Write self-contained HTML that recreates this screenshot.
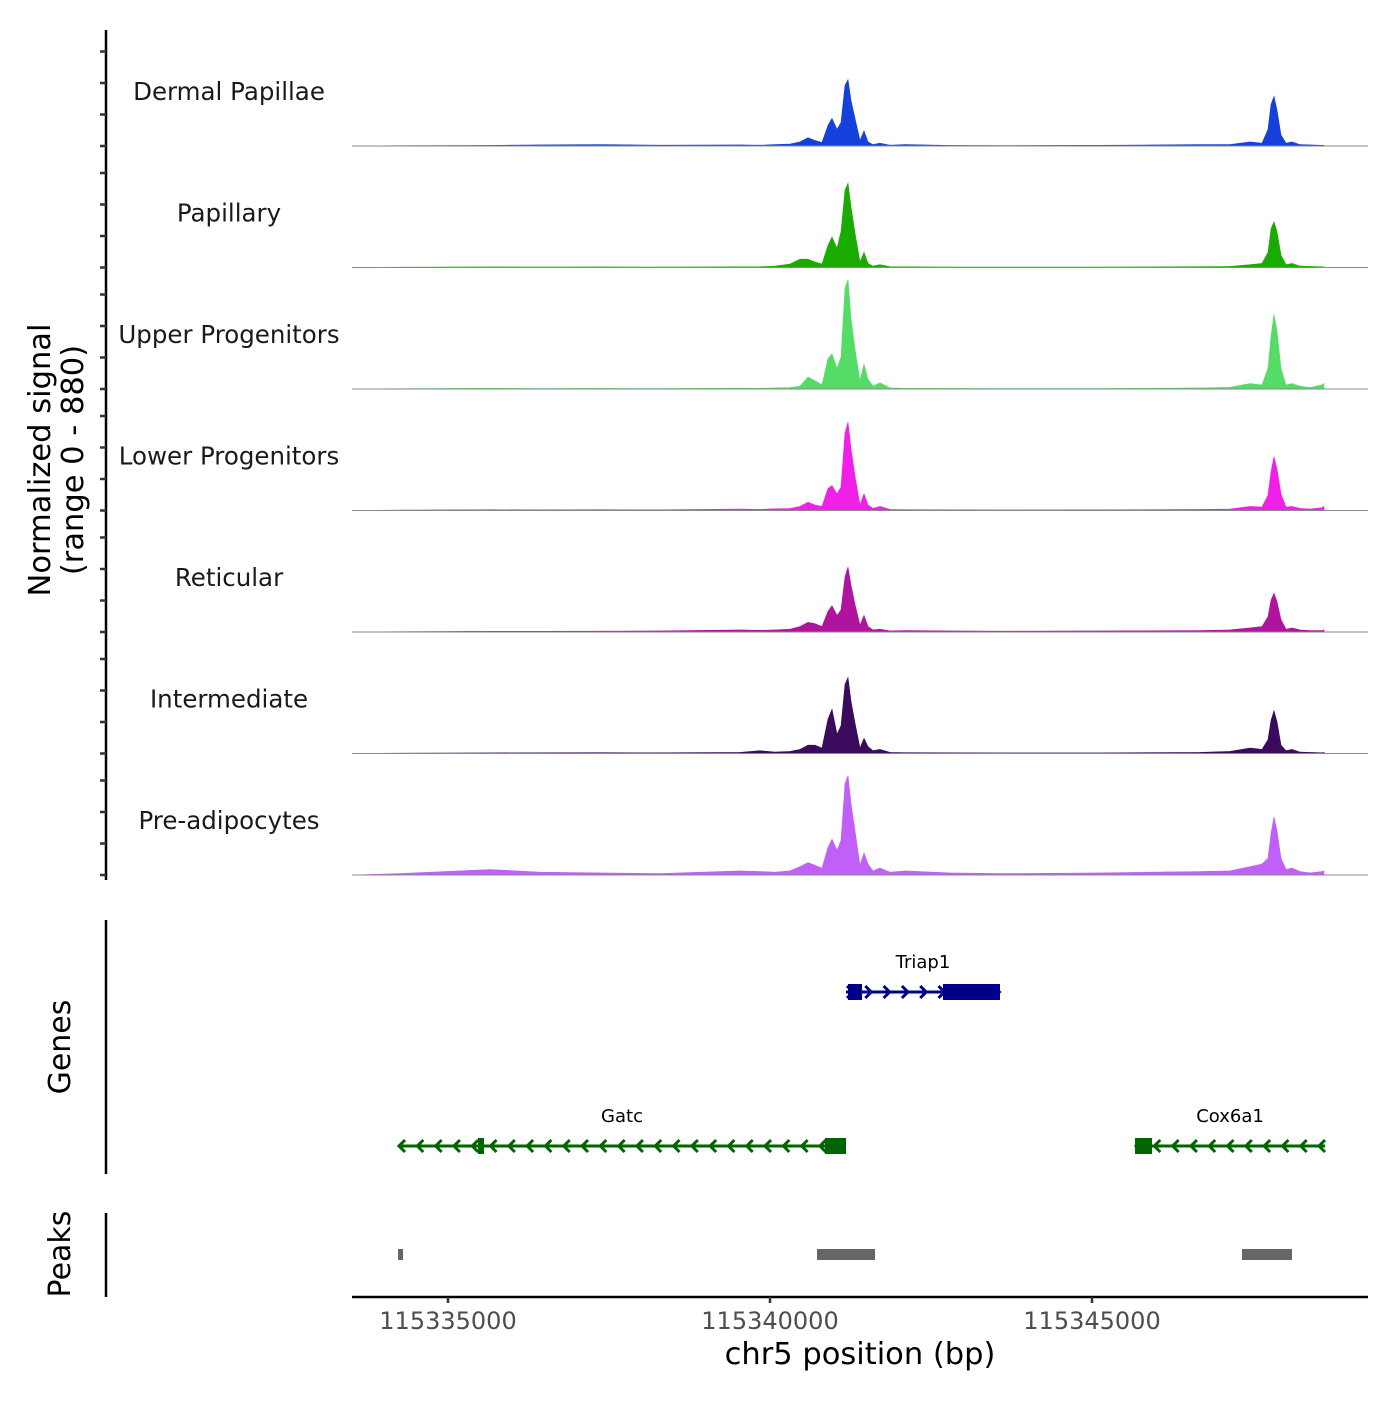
<!DOCTYPE html>
<html><head><meta charset="utf-8"><style>
body{margin:0;background:#fff}
svg text{font-family:"DejaVu Sans","Liberation Sans",sans-serif}
</style></head><body>
<svg id="c" width="1400" height="1400" viewBox="0 0 1400 1400"></svg>
<script>
const positions=[115333509,115334255,115335652,115336429,115337360,115338292,115339534,115339845,115340078,115340311,115340466,115340590,115340699,115340807,115340901,115340963,115341040,115341102,115341165,115341211,115341258,115341320,115341398,115341460,115341522,115341599,115341708,115341863,115342096,115342795,115343571,115345124,115346677,115347143,115347453,115347640,115347733,115347780,115347826,115347873,115347935,115348012,115348106,115348230,115348385,115348571,115348602];
const trackNames=["Dermal Papillae","Papillary","Upper Progenitors","Lower Progenitors","Reticular","Intermediate","Pre-adipocytes"];
const trackColors=["#1540dc","#1aab00","#55dc66","#f020e8","#b0149f","#3b0a5c","#c060f8"];
const dermalValues=[0,2,4,8,10,6,8,6,10,14,30,60,40,25,150,200,120,170,440,480,330,200,40,110,30,10,20,6,10,4,3,5,10,10,30,20,120,300,360,260,80,20,30,10,8,5,5];
const papillaryValues=[0,2,4,3,4,3,5,6,10,25,60,60,40,25,160,220,140,260,560,610,440,250,40,110,30,10,20,6,5,3,3,3,6,8,20,30,110,280,330,260,90,20,30,10,8,5,5];
const upperValues=[0,2,5,3,4,3,6,5,8,10,20,87,60,30,220,255,150,230,730,790,510,290,60,180,70,20,45,8,5,4,3,3,8,12,40,30,150,380,540,420,150,30,40,20,10,30,40];
const lowerValues=[0,3,6,5,6,5,10,8,12,14,30,60,40,30,160,180,120,170,560,640,450,250,40,120,40,15,30,8,6,5,4,5,8,10,30,25,110,280,390,300,120,25,30,15,10,20,30];
const reticularValues=[0,2,5,5,6,8,15,12,15,20,40,70,60,40,150,190,120,160,400,470,340,200,50,120,40,15,20,8,10,8,6,8,10,15,30,40,110,230,280,220,90,20,30,15,10,10,15];
const intermediateValues=[0,2,4,5,6,5,8,20,10,15,30,60,60,40,250,320,140,200,500,550,380,220,40,110,50,20,30,8,6,5,4,4,8,15,40,30,100,240,310,230,60,20,30,10,8,5,8];
const preadipoValues=[0,10,40,20,15,10,30,25,20,30,60,90,70,50,200,260,180,250,660,720,520,320,70,160,80,30,50,20,30,15,10,15,25,30,60,80,120,300,420,320,120,40,50,25,15,25,30];
const trackValues=[dermalValues,papillaryValues,upperValues,lowerValues,reticularValues,intermediateValues,preadipoValues];
const xTicks=[115335000,115340000,115345000];
const xTickLabels=["115335000","115340000","115345000"];
const genes=[
 {name:"Triap1",start:115341180,end:115343571,strand:1,row:0,color:"#00008b",exons:[[115341211,115341429],[115342686,115343571]]},
 {name:"Gatc",start:115334224,end:115341180,strand:-1,row:1,color:"#006400",exons:[[115340854,115341180],[115335466,115335559]]},
 {name:"Cox6a1",start:115345668,end:115348618,strand:-1,row:1,color:"#006400",exons:[[115345668,115345932]]}
];
const peaks=[[115334224,115334302],[115340730,115341631],[115347329,115348106]];
const yMax=880;

const svg=document.getElementById('c');
const NS='http://www.w3.org/2000/svg';
function x(bp){return 448+(bp-115335000)*322/5000;}
const trackH=121.5, firstBase=146;
function mk(tag,attrs,parent){const e=document.createElementNS(NS,tag);for(const k in attrs)e.setAttribute(k,attrs[k]);(parent||svg).appendChild(e);return e;}

let yl=mk('line',{x1:106,y1:30,x2:106,y2:880,stroke:'#000','stroke-width':2.5});


for(let t=0;t<trackNames.length;t++){
  const base=firstBase+t*trackH;
  for(let k=0;k<4;k++){
    const tk=mk('line',{x1:100,x2:106,y1:base-k*31.5,y2:base-k*31.5,stroke:'#333','stroke-width':2.5});
    
    
  }
}
let yt=mk('text',{x:0,y:0,transform:'translate(52,460) rotate(-90)','text-anchor':'middle','font-size':30.5,fill:'#000'});


let ts1=mk('tspan',{x:0,dy:-2},yt);ts1.textContent='Normalized signal';
let ts2=mk('tspan',{x:0,dy:33},yt);ts2.textContent='(range 0 - 880)';

for(let t=0;t<trackNames.length;t++){
  const base=firstBase+t*trackH;
  const vals=trackValues[t];
  let d='M'+x(positions[0])+','+base;
  for(let i=0;i<positions.length;i++){d+=' L'+x(positions[i]).toFixed(1)+','+(base-vals[i]/yMax*trackH).toFixed(1);}
  d+=' L'+x(positions[positions.length-1])+','+base+' Z';
  const p=mk('path',{d:d,fill:trackColors[t],stroke:trackColors[t],'stroke-width':0.6});
  
  
  const bl=mk('line',{x1:352,x2:1368,y1:base,y2:base,stroke:'#888','stroke-width':1});
  
  
  const lb=mk('text',{x:229,y:base-46,'text-anchor':'middle','font-size':24.5,fill:'#1a1a1a'});
  lb.textContent=trackNames[t];
  
  
}

let ga=mk('line',{x1:106,y1:920,x2:106,y2:1174,stroke:'#000','stroke-width':2.5});


let gt=mk('text',{x:0,y:0,transform:'translate(70,1047) rotate(-90)','text-anchor':'middle','font-size':30});
gt.textContent='Genes';


const rowY=[992,1146];
genes.forEach(g=>{
  const y=rowY[g.row];
  const grp=mk('g',{});
  
  
  const x1=x(g.start),x2=x(g.end);
  mk('line',{x1:x1,x2:x2,y1:y,y2:y,stroke:g.color,'stroke-width':3},grp);
  for(let ax=x1+4;ax<=x2;ax+=18.3){
    const s=g.strand*6;
    mk('polyline',{points:(ax-s/2)+','+(y-6)+' '+(ax+s/2)+','+y+' '+(ax-s/2)+','+(y+6),fill:'none',stroke:g.color,'stroke-width':3},grp);
  }
  g.exons.forEach(e=>{mk('rect',{x:x(e[0]),y:y-8,width:Math.max(5,x(e[1])-x(e[0])),height:16,fill:g.color},grp);});
  const lt=mk('text',{x:(x1+x2)/2,y:y-24,'text-anchor':'middle','font-size':18,fill:'#000'},grp);
  lt.textContent=g.name;
});

let pa=mk('line',{x1:106,y1:1213,x2:106,y2:1297,stroke:'#000','stroke-width':2.5});


let pt=mk('text',{x:0,y:0,transform:'translate(70,1254) rotate(-90)','text-anchor':'middle','font-size':30});
pt.textContent='Peaks';


peaks.forEach(pk=>{
  const r=mk('rect',{x:x(pk[0]),y:1249,width:x(pk[1])-x(pk[0]),height:11,fill:'#666'});
  
  
});

let xa=mk('line',{x1:352,x2:1368,y1:1297,y2:1297,stroke:'#000','stroke-width':2.5});


xTicks.forEach((v,i)=>{
  const tk=mk('line',{x1:x(v),x2:x(v),y1:1297,y2:1303,stroke:'#333','stroke-width':2.5});
  
  
  const tl=mk('text',{x:x(v),y:1329,'text-anchor':'middle','font-size':24,fill:'#4d4d4d'});
  tl.textContent=xTickLabels[i];
  
  
});
let xt=mk('text',{x:860,y:1364,'text-anchor':'middle','font-size':30.5});
xt.textContent='chr5 position (bp)';


</script>
</body></html>
